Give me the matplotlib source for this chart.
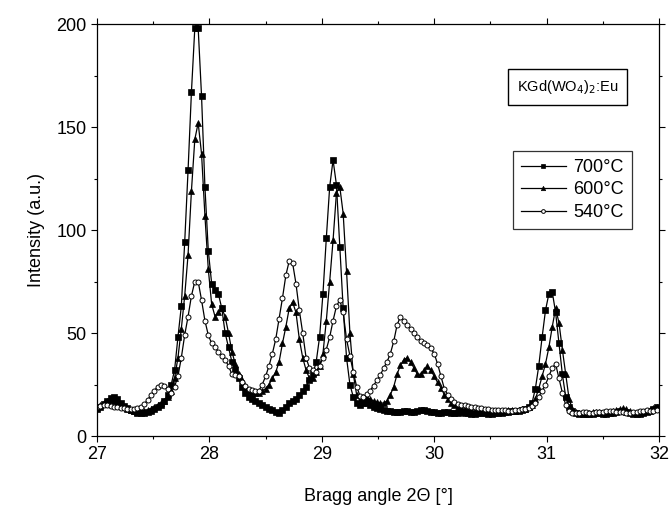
import numpy as np
import matplotlib
matplotlib.use("Agg")
import matplotlib.pyplot as plt
from matplotlib.ticker import MultipleLocator

plt.rcParams['font.family'] = ['Liberation Sans', 'DejaVu Sans']

# 2-theta grid of the scan (27.00 ... 31.98, step 0.03)
two_theta = np.round(27.0 + 0.03 * np.arange(167), 2)

# intensities, 10 points per row
i_700 = [13, 14, 15.5, 17, 18.5, 19, 18, 16, 14.5, 13.5,
         12.5, 12, 11, 11, 11, 11.5, 12, 13, 14, 15,
         17, 20, 25, 32, 48, 63, 94, 129, 167, 198,
         198, 165, 121, 90, 74, 71, 69, 62, 50, 43,
         36, 32, 28, 24, 21, 19, 18, 17, 16, 15,
         14, 13, 12.5, 11.5, 11, 12.5, 14, 16, 17, 18,
         20, 22, 24, 27, 30, 36, 48, 69, 96, 121,
         134, 122, 92, 62, 38, 25, 19, 16, 15, 16,
         16, 15, 14, 13.5, 13, 12.5, 12, 12, 11.5, 11.5,
         11.5, 12, 12, 11.5, 11.5, 12, 12.5, 12.5, 12, 11.5,
         11.5, 11, 11, 11.5, 11.5, 11, 11, 11, 11.5, 11,
         11, 10.5, 10.5, 11, 11, 11, 10.5, 10.5, 11, 11,
         11, 11.5, 11.5, 12, 12, 12, 12.5, 13, 14, 16,
         23, 34, 48, 61, 69, 70, 60, 45, 30, 19,
         14, 12, 11, 10.5, 10.5, 10.5, 10.5, 10.5, 11, 11,
         10.5, 10.5, 11, 11, 11.5, 12, 12, 11.5, 11, 10.5,
         10.5, 10.5, 11, 11.5, 12, 13, 14]

i_600 = [14, 15, 16, 17, 17.5, 17, 16, 15, 14, 13,
         12.5, 12, 11.5, 11.5, 12, 12.5, 13, 14, 15, 16,
         17, 19, 22, 28, 38, 52, 68, 88, 119, 144,
         152, 137, 107, 81, 64, 58, 60, 62, 58, 50,
         41, 35, 30, 27, 24, 22, 21, 21, 21, 22,
         23, 25, 28, 31, 36, 45, 53, 62, 65, 60,
         47, 38, 32, 28, 28, 31, 34, 40, 56, 75,
         95, 118, 121, 108, 80, 50, 30, 20, 17, 19,
         18.5, 18, 17, 16.5, 16, 16, 17, 20, 24, 30,
         34.5, 37, 38, 36, 33, 30, 30, 32, 34, 32,
         29, 26, 23.5, 20, 18, 16, 15, 14, 13.5, 13,
         12.5, 12.5, 12, 12, 12, 12, 11.5, 11.5, 11.5, 12,
         12, 12, 12.5, 12.5, 12, 12.5, 13, 13, 14, 15,
         18, 23, 29, 35, 43, 53, 62, 55, 42, 30,
         18, 13, 11.5, 11, 11, 11, 11, 11.5, 11.5, 11.5,
         11, 11, 11.5, 12, 12.5, 13, 13.5, 13, 12, 11,
         11, 11, 11.5, 12, 12.5, 13.5, 14]

i_540 = [14, 14.5, 15, 15, 14.5, 14, 14, 13.5, 13.5, 13,
         13, 13, 13.5, 14, 15.5, 17.5, 20, 22, 24, 25,
         24.5, 23, 21, 24, 29, 38, 49, 58, 68, 75,
         75, 66, 56, 49, 45, 43, 41, 39, 37, 34,
         30, 29.5, 29, 26, 24.5, 23, 22.5, 22, 22, 25,
         29, 34, 40, 47, 57, 67, 78, 85, 84, 74,
         61, 50, 38, 33, 32, 31, 34, 38, 42, 48,
         56, 63, 66, 60, 47, 39, 31, 24, 19.5, 19,
         20.5, 22, 24.5, 27, 29.5, 33, 36, 40, 46, 54,
         58, 56, 54, 52, 50, 48, 46, 45, 44, 42.5,
         40, 35, 29, 23, 20, 18, 16.5, 15.5, 15, 15,
         14.5, 14, 14, 13.5, 13.5, 13, 13, 12.5, 12.5, 12.5,
         12.5, 12.5, 12, 12, 12.5, 12.5, 13, 13, 13.5, 14.5,
         16, 19, 22, 25, 29, 33, 35, 28, 21, 15,
         12, 11, 11, 11, 11.5, 11.5, 11, 11, 11.5, 11.5,
         11.5, 12, 12, 12, 11.5, 11.5, 11.5, 11, 11, 11.5,
         11.5, 12, 12, 12.5, 12, 12, 12.5]

fig = plt.figure(figsize=(6.7, 5.07), dpi=100)
ax = fig.add_axes([0.1448, 0.1400, 0.8388, 0.8126])

ax.plot(two_theta, i_700, '-', color='black', lw=0.9, marker='s', ms=3.8,
        mfc='black', mec='black', mew=0.5, label='700°C')
ax.plot(two_theta, i_600, '-', color='black', lw=0.9, marker='^', ms=4.2,
        mfc='black', mec='black', mew=0.5, label='600°C')
ax.plot(two_theta, i_540, '-', color='black', lw=0.9, marker='o', ms=3.6,
        mfc='white', mec='black', mew=0.7, label='540°C')

ax.set_xlim(27, 32)
ax.set_ylim(0, 200)
ax.xaxis.set_major_locator(MultipleLocator(1))
ax.xaxis.set_minor_locator(MultipleLocator(0.5))
ax.yaxis.set_major_locator(MultipleLocator(50))
ax.yaxis.set_minor_locator(MultipleLocator(25))
ax.tick_params(which='both', direction='out', top=True, right=True,
               labelsize=13, width=0.8)
ax.tick_params(which='major', length=4)
ax.tick_params(which='minor', length=2.5)
for s in ax.spines.values():
    s.set_linewidth(0.9)

ax.set_xlabel('Bragg angle 2Θ [°]', fontsize=13, labelpad=18)
ax.set_ylabel('Intensity (a.u.)', fontsize=13, labelpad=8)

# sample label box
ax.text(0.838, 0.847, 'KGd(WO$_4$)$_2$:Eu', transform=ax.transAxes,
        fontsize=10.5, ha='center', va='center',
        bbox=dict(boxstyle='square,pad=0.6', fc='white', ec='black', lw=1.0))

leg = ax.legend(loc='upper right', bbox_to_anchor=(0.952, 0.692),
                fontsize=13, frameon=True, fancybox=False, edgecolor='black',
                handlelength=2.5, markerscale=0.75, labelspacing=0.3,
                borderpad=0.45, handletextpad=0.4, borderaxespad=0)
leg.get_frame().set_linewidth(0.9)

fig.savefig('out.png', dpi=100)
